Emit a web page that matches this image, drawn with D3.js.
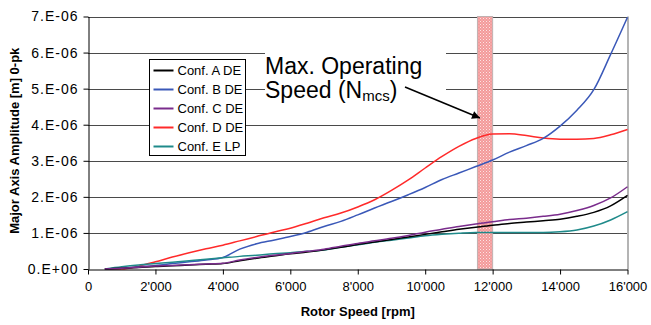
<!DOCTYPE html>
<html>
<head>
<meta charset="utf-8">
<script src="https://cdn.jsdelivr.net/npm/d3@7"></script>
<style>
  html, body { margin: 0; padding: 0; background: #fff; }
  svg { display: block; font-family: "Liberation Sans", Arial, sans-serif; }
</style>
</head>
<body>
<svg id="chart" width="651" height="325"></svg>
<script>
// Rotor speed samples [rpm]
const speeds = [500, 1000, 1500, 2000, 2500, 3000, 3500, 4000, 4500, 5000, 5500, 6000, 6500, 7000, 7500, 8000,
  8500, 9000, 9500, 10000, 10500, 11000, 11500, 12000, 12500, 13000, 13500, 14000, 14500, 15000, 15500, 16000];

// Major axis amplitude, 0-pk, in units of 1e-6 m
const confA = [0, 0.02, 0.04, 0.07, 0.09, 0.11, 0.13, 0.15, 0.23, 0.30, 0.36, 0.42, 0.47, 0.53, 0.60, 0.68,
  0.75, 0.82, 0.89, 0.96, 1.03, 1.10, 1.16, 1.21, 1.26, 1.30, 1.34, 1.38, 1.46, 1.57, 1.75, 2.04];
const confB = [0, 0.02, 0.06, 0.10, 0.15, 0.20, 0.25, 0.32, 0.55, 0.70, 0.80, 0.90, 1.02, 1.18, 1.32, 1.50,
  1.69, 1.87, 2.06, 2.26, 2.48, 2.66, 2.84, 3.02, 3.24, 3.42, 3.62, 3.96, 4.40, 4.97, 5.95, 6.98];
const confC = [0, 0.02, 0.05, 0.08, 0.10, 0.12, 0.14, 0.16, 0.25, 0.32, 0.38, 0.43, 0.49, 0.55, 0.63, 0.71,
  0.78, 0.85, 0.93, 1.02, 1.10, 1.18, 1.25, 1.31, 1.37, 1.41, 1.46, 1.52, 1.62, 1.76, 1.97, 2.28];
const confD = [0, 0.00, 0.08, 0.20, 0.33, 0.45, 0.56, 0.66, 0.78, 0.90, 1.02, 1.13, 1.27, 1.42, 1.55, 1.72,
  1.92, 2.18, 2.47, 2.80, 3.12, 3.40, 3.62, 3.74, 3.75, 3.70, 3.63, 3.60, 3.60, 3.62, 3.72, 3.87];
const confE = [0, 0.06, 0.11, 0.15, 0.19, 0.23, 0.27, 0.31, 0.35, 0.38, 0.42, 0.45, 0.49, 0.53, 0.60, 0.67,
  0.74, 0.80, 0.86, 0.92, 0.96, 0.99, 1.01, 1.01, 1.01, 1.01, 1.01, 1.03, 1.08, 1.19, 1.36, 1.59];

const seriesNames = ["Conf. A DE", "Conf. B DE", "Conf. C DE", "Conf. D DE", "Conf. E LP"];
const seriesColors = ["#000000", "#3a58b8", "#7a2c8c", "#ff2a2a", "#1f8a8a"];

// Axis ticks
const xTicks = [0, 2000, 4000, 6000, 8000, 10000, 12000, 14000, 16000];
const xTickLabels = ["0", "2'000", "4'000", "6'000", "8'000", "10'000", "12'000", "14'000", "16'000"];
const yTicks = [0, 1, 2, 3, 4, 5, 6, 7];
const yTickLabels = ["0.E+00", "1.E-06", "2.E-06", "3.E-06", "4.E-06", "5.E-06", "6.E-06", "7.E-06"];

// Maximum continuous speed band [rpm]
const mcsBand = [11550, 12000];

const svg = d3.select("#chart");
const x = d3.scaleLinear().domain([0, 16000]).range([88, 627.5]);
const y = d3.scaleLinear().domain([0, 7]).range([269, 16.5]);

// Dotted fill for the speed band
const defs = svg.append("defs");
const pat = defs.append("pattern").attr("id", "hatch").attr("patternUnits", "userSpaceOnUse")
  .attr("width", 3).attr("height", 3);
pat.append("rect").attr("width", 3).attr("height", 3).attr("fill", "#f39a9a");
pat.append("rect").attr("width", 1).attr("height", 1).attr("fill", "#fde4e4");
pat.append("rect").attr("x", 1.5).attr("y", 1.5).attr("width", 1).attr("height", 1).attr("fill", "#fbd0d0");

// Horizontal grid lines
svg.append("g").selectAll("line").data(yTicks.filter(d => d > 0)).join("line")
  .attr("x1", x(0)).attr("x2", x(16000))
  .attr("y1", d => Math.round(y(d)) + 0.5).attr("y2", d => Math.round(y(d)) + 0.5)
  .attr("stroke", "#4a4a4a").attr("stroke-width", 1);

// Right frame edge
svg.append("line").attr("x1", x(16000) + 0.5).attr("x2", x(16000) + 0.5)
  .attr("y1", y(7)).attr("y2", y(0)).attr("stroke", "#b4b4b4").attr("stroke-width", 2);

// Speed band
svg.append("rect")
  .attr("x", x(mcsBand[0])).attr("y", y(7))
  .attr("width", x(mcsBand[1]) - x(mcsBand[0])).attr("height", y(0) - y(7))
  .attr("fill", "url(#hatch)").attr("stroke", "#c0b0b0").attr("stroke-width", 1);

// Series lines
const allSeries = [confA, confB, confC, confD, confE];
const line = d3.line().x((d, i) => x(speeds[i])).y(d => y(d)).curve(d3.curveMonotoneX);
const drawOrder = [3, 1, 4, 0, 2];
svg.append("g").selectAll("path").data(drawOrder).join("path")
  .attr("d", k => line(allSeries[k]))
  .attr("fill", "none").attr("stroke", k => seriesColors[k]).attr("stroke-width", 1.5);

// Axes
const xAxis = d3.axisBottom(x).tickValues(xTicks).tickFormat((d, i) => xTickLabels[i]).tickSize(5).tickSizeOuter(0);
const gx = svg.append("g").attr("transform", `translate(0,${Math.round(y(0)) + 0.5})`).call(xAxis);
gx.select(".domain").attr("stroke", "#000");
gx.selectAll(".tick line").attr("stroke", "#000");
gx.selectAll(".tick text").attr("font-size", 13).attr("fill", "#000").attr("dy", "1.05em")
  .attr("font-family", "'Liberation Sans', Arial, sans-serif");

const yAxis = d3.axisLeft(y).tickValues(yTicks).tickFormat((d, i) => yTickLabels[i]).tickSize(5).tickSizeOuter(0);
const gy = svg.append("g").attr("transform", `translate(${Math.round(x(0)) + 0.5},0)`).call(yAxis);
gy.select(".domain").attr("stroke", "#000");
gy.selectAll(".tick line").attr("stroke", "#000");
gy.selectAll(".tick text").attr("font-size", 14).attr("letter-spacing", 1).attr("fill", "#000").attr("x", -10)
  .attr("font-family", "'Liberation Sans', Arial, sans-serif");

// Axis titles
svg.append("text").attr("x", x(8000)).attr("y", 316).attr("text-anchor", "middle")
  .attr("font-size", 13).attr("font-weight", "bold").text("Rotor Speed [rpm]");
svg.append("text").attr("transform", `translate(19,${y(3.5) - 2}) rotate(-90)`).attr("text-anchor", "middle")
  .attr("font-size", 13).attr("font-weight", "bold").text("Major Axis Amplitude [m] 0-pk");

// Legend
const lg = svg.append("g").attr("transform", "translate(149.5,59.5)");
lg.append("rect").attr("width", 96).attr("height", 96).attr("fill", "#fff").attr("stroke", "#000");
const items = lg.selectAll("g.item").data(seriesNames).join("g").attr("class", "item")
  .attr("transform", (d, i) => `translate(0,${11 + i * 19})`);
items.append("line").attr("x1", 4).attr("x2", 24).attr("stroke", (d, i) => seriesColors[i]).attr("stroke-width", 2);
items.append("text").attr("x", 28).attr("dy", "0.35em").attr("font-size", 13).text(d => d);

// Annotation with arrow to the band
svg.append("rect").attr("x", 265).attr("y", 44).attr("width", 181).attr("height", 68).attr("fill", "#fff");
const ann = svg.append("text").attr("font-size", 23).attr("fill", "#000");
ann.append("tspan").attr("x", 265).attr("y", 74).text("Max. Operating");
const l2 = ann.append("tspan").attr("x", 265).attr("y", 98);
l2.append("tspan").text("Speed (N");
l2.append("tspan").attr("font-size", 15).attr("dy", 3).text("mcs");
l2.append("tspan").attr("dy", -3).text(")");

defs.append("marker").attr("id", "arrowhead").attr("viewBox", "0 0 10 10").attr("refX", 10).attr("refY", 5)
  .attr("markerWidth", 11).attr("markerHeight", 8).attr("markerUnits", "userSpaceOnUse").attr("orient", "auto")
  .append("path").attr("d", "M0,0 L10,5 L0,10 Z").attr("fill", "#000");
svg.append("line").attr("x1", 405).attr("y1", 87).attr("x2", 480).attr("y2", 118)
  .attr("stroke", "#000").attr("stroke-width", 1.5).attr("marker-end", "url(#arrowhead)");
</script>
</body>
</html>
